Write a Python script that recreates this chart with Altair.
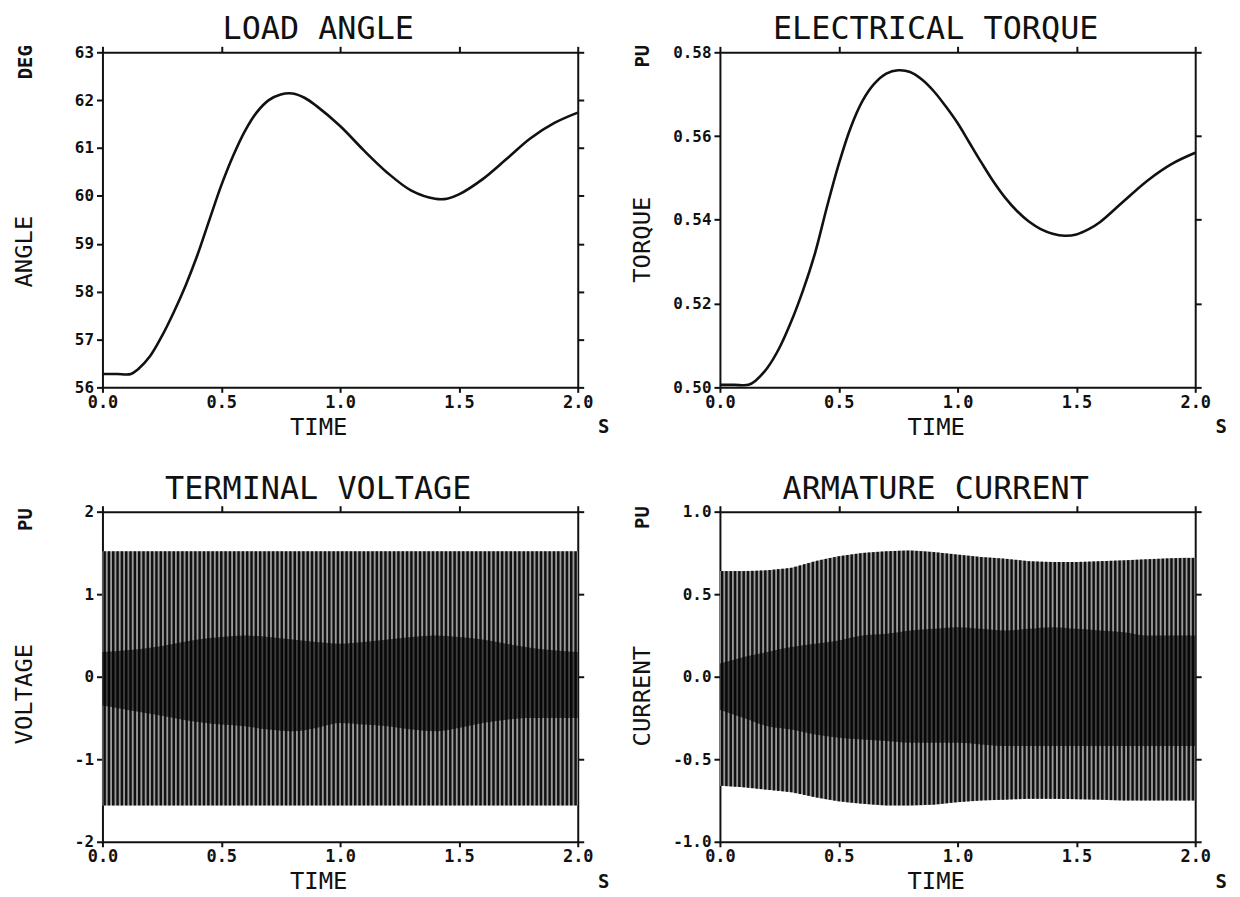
import altair as alt
import numpy as np
import pandas as pd

FONT = "DejaVu Sans Mono"
INK = "#111111"
W = 478
H_TOP, H_BOT = 337, 332

# ---------------- data ----------------
angle_t = [0.0, 0.06, 0.12, 0.15, 0.2, 0.25, 0.3, 0.35, 0.4, 0.45, 0.5, 0.55, 0.6, 0.65, 0.7,
           0.75, 0.8, 0.85, 0.9, 1.0, 1.1, 1.2, 1.3, 1.4, 1.45, 1.5, 1.6, 1.7, 1.8, 1.9, 2.0]
angle_deg = [56.28, 56.28, 56.28, 56.38, 56.65, 57.07, 57.57, 58.13, 58.77, 59.50, 60.22, 60.84,
             61.36, 61.75, 62.00, 62.12, 62.14, 62.05, 61.88, 61.46, 60.95, 60.48, 60.11,
             59.94, 59.94, 60.03, 60.35, 60.77, 61.20, 61.52, 61.74]

torque_t = [0.0, 0.06, 0.12, 0.15, 0.2, 0.25, 0.3, 0.35, 0.4, 0.45, 0.5, 0.55, 0.6, 0.65, 0.7,
            0.75, 0.8, 0.85, 0.9, 0.95, 1.0, 1.05, 1.1, 1.15, 1.2, 1.25, 1.3, 1.35, 1.4,
            1.45, 1.5, 1.55, 1.6, 1.7, 1.8, 1.9, 2.0]
torque_pu = [0.5006, 0.5006, 0.5006, 0.5016, 0.5047, 0.5094, 0.5157, 0.5232, 0.5320, 0.5430,
             0.5533, 0.5620, 0.5684, 0.5725, 0.5749, 0.5757, 0.5753, 0.5735, 0.5707,
             0.5671, 0.5631, 0.5584, 0.5537, 0.5492, 0.5453, 0.5421, 0.5396, 0.5378,
             0.5367, 0.5362, 0.5365, 0.5377, 0.5395, 0.5445, 0.5494, 0.5533, 0.5560]

# envelopes of the oscillating quantities, sampled every 0.1 s
env_t = [0.0, 0.1, 0.2, 0.3, 0.4, 0.5, 0.6, 0.7, 0.8, 0.9, 1.0,
         1.1, 1.2, 1.3, 1.4, 1.5, 1.6, 1.7, 1.8, 1.9, 2.0]
volt_upper = [1.52, 1.52, 1.52, 1.52, 1.52, 1.52, 1.52, 1.52, 1.52, 1.52, 1.52,
              1.52, 1.52, 1.52, 1.52, 1.52, 1.52, 1.52, 1.52, 1.52, 1.52]
volt_lower = [-1.56, -1.56, -1.56, -1.56, -1.56, -1.56, -1.56, -1.56, -1.56, -1.56, -1.56,
              -1.56, -1.56, -1.56, -1.56, -1.56, -1.56, -1.56, -1.56, -1.56, -1.56]
volt_core_upper = [0.30, 0.32, 0.35, 0.40, 0.45, 0.48, 0.50, 0.48, 0.45, 0.42, 0.40,
                   0.42, 0.45, 0.48, 0.50, 0.48, 0.45, 0.40, 0.35, 0.32, 0.30]
volt_core_lower = [-0.35, -0.40, -0.45, -0.50, -0.55, -0.58, -0.60, -0.64, -0.66, -0.62, -0.56,
                   -0.58, -0.60, -0.64, -0.66, -0.62, -0.56, -0.52, -0.50, -0.50, -0.50]
curr_upper = [0.64, 0.64, 0.645, 0.66, 0.70, 0.73, 0.75, 0.76, 0.765, 0.755, 0.74,
              0.725, 0.715, 0.70, 0.695, 0.695, 0.70, 0.705, 0.712, 0.718, 0.72]
curr_lower = [-0.66, -0.67, -0.685, -0.70, -0.73, -0.755, -0.77, -0.78, -0.78, -0.775, -0.76,
              -0.75, -0.745, -0.74, -0.74, -0.742, -0.745, -0.75, -0.75, -0.75, -0.75]
curr_core_upper = [0.08, 0.12, 0.15, 0.18, 0.20, 0.22, 0.25, 0.26, 0.28, 0.29, 0.30,
                   0.29, 0.28, 0.29, 0.30, 0.29, 0.28, 0.27, 0.25, 0.25, 0.25]
curr_core_lower = [-0.20, -0.25, -0.30, -0.32, -0.35, -0.37, -0.38, -0.39, -0.40, -0.40, -0.40,
                   -0.41, -0.42, -0.42, -0.42, -0.42, -0.42, -0.42, -0.42, -0.42, -0.42]
CYCLES_PER_SECOND = 55  # visible stroke pitch of the oscillograms

x_ticks = [0.0, 0.5, 1.0, 1.5, 2.0]
angle_ticks = [56, 57, 58, 59, 60, 61, 62, 63]
torque_ticks = [0.50, 0.52, 0.54, 0.56, 0.58]
volt_ticks = [-2, -1, 0, 1, 2]
curr_ticks = [-1.0, -0.5, 0.0, 0.5, 1.0]


def axes(yvals, ylabel_expr, ytitle, ytitle_y):
    common = dict(tickWidth=2, tickColor=INK, domainColor=INK, domainWidth=2, grid=False)
    bottom = alt.Axis(orient="bottom", values=x_ticks, format=".1f", labelFont=FONT,
                      labelFontSize=17, labelFontWeight="bold", labelColor=INK, labelPadding=2,
                      labelFlush=False, labelOverlap=False, tickSize=5, title="TIME",
                      titleFont=FONT, titleFontSize=24, titleFontWeight="normal",
                      titleColor=INK, titleX=W / 2 - 22, titleY=47,
                      titleBaseline="alphabetic", **common)
    top = alt.Axis(orient="top", values=x_ticks, labels=False, tickSize=6, title=None, **common)
    left = alt.Axis(orient="left", values=yvals, labelExpr=ylabel_expr, labelFont=FONT,
                    labelFontSize=16, labelFontWeight="bold", labelColor=INK, labelPadding=3,
                    labelFlush=False, labelOverlap=False, tickSize=6, title=ytitle,
                    titleFont=FONT, titleFontSize=24, titleFontWeight="normal", titleColor=INK,
                    titleAngle=270, titleX=-66, titleY=ytitle_y, titleBaseline="bottom",
                    titleAlign="center", **common)
    right = alt.Axis(orient="right", values=yvals, labels=False, tickSize=6, title=None, **common)
    return bottom, top, left, right


def panel(title, ytitle, unit, ydom, yvals, ylabel_expr, ytitle_y, unit_y, axis_df, layers, h):
    xs = alt.Scale(domain=[0, 2], nice=False, zero=False)
    ys = alt.Scale(domain=ydom, nice=False, zero=False)
    bottom, top, left, right = axes(yvals, ylabel_expr, ytitle, ytitle_y)
    base_axes = alt.Chart(axis_df).mark_line(opacity=0).encode(
        x=alt.X("t:Q", scale=xs, axis=bottom), y=alt.Y("v:Q", scale=ys, axis=left))
    other_axes = alt.Chart(axis_df).mark_line(opacity=0).encode(
        x=alt.X("t:Q", scale=xs, axis=top), y=alt.Y("v:Q", scale=ys, axis=right))
    unit_lbl = alt.Chart(pd.DataFrame({"s": [unit]})).mark_text(
        font=FONT, fontSize=19, fontWeight="bold", color=INK, angle=270,
        align="center", baseline="middle").encode(
        text="s:N", x=alt.value(-77), y=alt.value(unit_y))
    s_lbl = alt.Chart(pd.DataFrame({"s": ["S"]})).mark_text(
        font=FONT, fontSize=19, fontWeight="bold", color=INK,
        align="center", baseline="middle").encode(
        text="s:N", x=alt.value(W + 26), y=alt.value(h + 40))
    built = [l(xs, ys) for l in layers]
    return alt.layer(*built, base_axes, other_axes, unit_lbl, s_lbl).properties(
        width=W, height=h,
        title=alt.TitleParams(title, font=FONT, fontSize=32, fontWeight="normal", color=INK,
                              anchor="middle", frame="group", dx=-22, offset=-2),
    ).resolve_axis(x="independent", y="independent")


def curve_layer(df):
    def f(xs, ys):
        return alt.Chart(df).mark_line(color=INK, strokeWidth=2.6,
                                       interpolate="catmull-rom").encode(
            x=alt.X("t:Q", scale=xs, axis=None), y=alt.Y("v:Q", scale=ys, axis=None))
    return f


def osc_layers(upper, lower, core_up, core_lo):
    env = pd.DataFrame({"t": env_t, "lo": lower, "hi": upper})
    core = pd.DataFrame({"t": env_t, "lo": core_lo, "hi": core_up})
    tc = np.arange(0.5 / CYCLES_PER_SECOND, 2.0, 1.0 / CYCLES_PER_SECOND)
    strokes = pd.DataFrame({"t": tc, "lo": np.interp(tc, env_t, lower),
                            "hi": np.interp(tc, env_t, upper)})

    def a(xs, ys):
        return alt.Chart(env).mark_area(color="#9c9c9c", interpolate="monotone").encode(
            x=alt.X("t:Q", scale=xs, axis=None), y=alt.Y("lo:Q", scale=ys, axis=None), y2="hi:Q")

    def r(xs, ys):
        return alt.Chart(strokes).mark_rule(color=INK, strokeWidth=2.5).encode(
            x=alt.X("t:Q", scale=xs, axis=None), y=alt.Y("lo:Q", scale=ys, axis=None), y2="hi:Q")

    def c(xs, ys):
        return alt.Chart(core).mark_area(color="#000000", opacity=0.6,
                                         interpolate="monotone").encode(
            x=alt.X("t:Q", scale=xs, axis=None), y=alt.Y("lo:Q", scale=ys, axis=None), y2="hi:Q")

    return [a, r, c]


angle_df = pd.DataFrame({"t": angle_t, "v": angle_deg})
torque_df = pd.DataFrame({"t": torque_t, "v": torque_pu})
volt_axis_df = pd.DataFrame({"t": env_t, "v": volt_upper})
curr_axis_df = pd.DataFrame({"t": env_t, "v": curr_upper})

hy = "datum.value < 0 ? '-' + format(-datum.value, '{f}') : format(datum.value, '{f}')"

p1 = panel("LOAD ANGLE", "ANGLE", "DEG", [56, 63], angle_ticks, hy.format(f="d"), 200, 10,
           angle_df, [curve_layer(angle_df)], H_TOP)
p2 = panel("ELECTRICAL TORQUE", "TORQUE", "PU", [0.50, 0.58], torque_ticks, hy.format(f=".2f"),
           188, 4, torque_df, [curve_layer(torque_df)], H_TOP)
p3 = panel("TERMINAL VOLTAGE", "VOLTAGE", "PU", [-2, 2], volt_ticks, hy.format(f="d"), 183, 8,
           volt_axis_df, osc_layers(volt_upper, volt_lower, volt_core_upper, volt_core_lower), H_BOT)
p4 = panel("ARMATURE CURRENT", "CURRENT", "PU", [-1.0, 1.0], curr_ticks, hy.format(f=".1f"), 185, 6,
           curr_axis_df, osc_layers(curr_upper, curr_lower, curr_core_upper, curr_core_lower), H_BOT)

chart = alt.concat(p1, p2, p3, p4, columns=2, spacing={"row": 125, "column": 143},
                   bounds="flush").configure_view(stroke=None).properties(
    background="white", padding={"left": 5, "top": 3, "right": 5, "bottom": 0})

chart.save("out.html", embed_options={"renderer": "svg", "actions": False})
